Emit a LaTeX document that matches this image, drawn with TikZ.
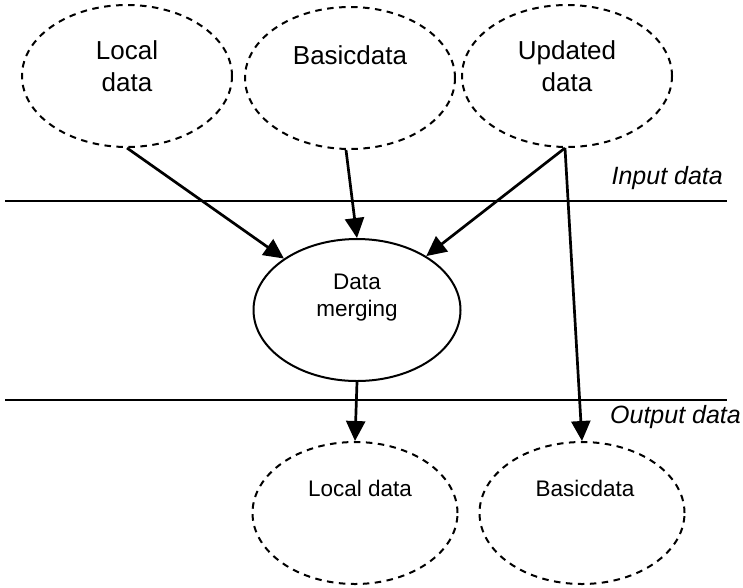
\documentclass[tikz,border=0pt]{standalone}
\usepackage{fontspec}
\setmainfont{Liberation Sans}
\usetikzlibrary{shapes.geometric,arrows.meta}
\begin{document}
\begin{tikzpicture}[x=1pt,y=-1pt,
  store/.style={draw,ellipse,line width=2pt,dash pattern=on 6.5pt off 5.5pt,
    minimum width=#1,minimum height=142pt,inner sep=0pt},
  store/.default=210pt,
  process/.style={draw,ellipse,line width=2pt,minimum width=207pt,minimum height=142pt,inner sep=0pt},
  bigtxt/.style={font=\fontsize{26}{32}\selectfont,align=center,inner sep=0pt},
  midtxt/.style={font=\fontsize{22.5}{27}\selectfont,align=center,inner sep=0pt},
  layer/.style={font=\itshape\fontsize{25}{30}\selectfont,inner sep=0pt,anchor=east},
  flow/.style={line width=2.7pt,-{Triangle[length=20pt,width=19pt]}},
  rule/.style={line width=2pt}]
\useasboundingbox (0,0) rectangle (743,587);

% input data stores
\node[store] (loc) at (127,76) {};
\node[store] (bas) at (350,78) {};
\node[store] (upd) at (567,76) {};
\node[bigtxt] (loctxt) at (127,66) {Local\\data};
\node[bigtxt] (bastxt) at (350,55) {Basicdata};
\node[bigtxt] (updtxt) at (567,66) {Updated\\data};

% layer boundaries
\coordinate (r1a) at (5,201);
\coordinate (r1b) at (727,201);
\coordinate (r2a) at (5,400);
\coordinate (r2b) at (727,400);
\draw[rule] (r1a) -- (r1b);
\draw[rule] (r2a) -- (r2b);
\node[layer] (inlab) at (723,178) {Input data};
\node[layer] (outlab) at (741,417) {Output data};

% merging process
\node[process] (merge) at (357,310) {};
\node[midtxt] (mergetxt) at (357,298) {Data\\merging};

% output data stores
\node[store=205pt] (outl) at (355,513) {};
\node[store=205pt] (outb) at (582,513) {};
\node[midtxt] (outltxt) at (360,488) {Local data};
\node[midtxt] (outbtxt) at (585,488) {Basicdata};

% data flows
\draw[flow] (loc.south) -- (merge);
\draw[flow] ([xshift=-4pt]bas.south) -- (merge.north);
\draw[flow] ([xshift=-2pt]upd.south) -- (merge);
\draw[flow] ([xshift=-2pt]upd.south) -- (outb.north);
\draw[flow] (merge.south) -- (outl.north);
\end{tikzpicture}
\end{document}
